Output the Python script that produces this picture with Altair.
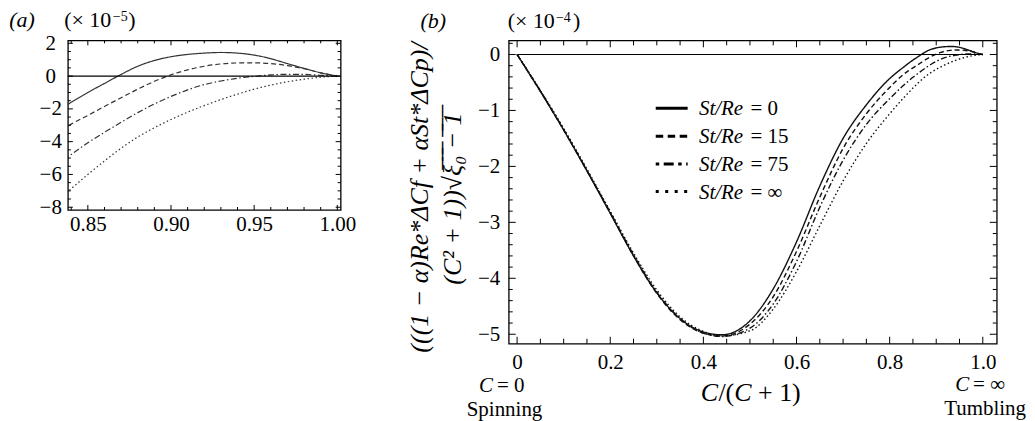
import altair as alt
import pandas as pd

FONT = "Liberation Serif"

# C/(C+1) grid shared by all curves
C_VALUES = [0.0, 0.05, 0.10, 0.15, 0.20, 0.25, 0.30, 0.35, 0.40, 0.44, 0.50,
            0.55, 0.60, 0.65, 0.70, 0.75, 0.80, 0.83, 0.84, 0.85, 0.86, 0.87,
            0.88, 0.89, 0.90, 0.91, 0.92, 0.93, 0.94, 0.95, 0.96, 0.97, 0.98,
            0.99, 1.00]

# curve values in units of 1e-5
SOLID = [0, -6.6, -13.5, -20.8, -28.4, -36.0, -42.6, -47.2, -49.6, -50.1, -47.6,
         -41.9, -33.5, -23.5, -15.0, -9.0, -4.3, -2.25, -1.6, -1.0, -0.45, 0.1,
         0.6, 0.95, 1.18, 1.32, 1.40, 1.44, 1.40, 1.28, 1.06, 0.76, 0.47, 0.20, 0]
DASHED = [0, -6.6, -13.5, -20.8, -28.3, -36.0, -42.7, -47.4, -49.8, -50.3, -48.2,
          -43.3, -35.2, -25.5, -16.8, -10.6, -5.9, -3.55, -2.93, -2.4, -1.85, -1.32,
          -0.8, -0.32, 0.08, 0.38, 0.6, 0.74, 0.8, 0.81, 0.76, 0.64, 0.45, 0.2, 0]
DASHDOT = [0, -6.5, -13.4, -20.7, -28.2, -35.8, -42.5, -47.2, -49.8, -50.4, -48.9,
           -44.6, -37.0, -27.3, -18.9, -12.5, -7.9, -5.5, -4.78, -4.07, -3.43, -2.82,
           -2.23, -1.7, -1.24, -0.84, -0.52, -0.3, -0.13, -0.02, 0.07, 0.11, 0.1, 0.05, 0]
DOTTED = [0, -6.4, -13.2, -20.5, -28.0, -35.5, -42.1, -46.9, -49.5, -50.3, -49.4,
          -45.5, -38.8, -30.6, -22.6, -15.9, -10.6, -7.75, -6.87, -6.0, -5.18, -4.4,
          -3.72, -3.15, -2.65, -2.2, -1.8, -1.43, -1.1, -0.8, -0.55, -0.35, -0.19, -0.07, 0]

ST_VALUES = ["0", "15", "75", "\u221e"]
SERIES_LABELS = ["St/Re = " + s for s in ST_VALUES]
DASHES = [[1, 0], [5, 3], [6, 2.5, 1.5, 2.5], [1.5, 2.5]]
LEGEND_DASHES = [[1, 0], [7.5, 4.5], [3.5, 4.5, 10, 4.5], [3, 6.5]]

# tick values
A_X_LABELS = [0.85, 0.90, 0.95, 1.00]
A_X_MINOR = [0.84, 0.86, 0.87, 0.88, 0.89, 0.91, 0.92, 0.93, 0.94, 0.96, 0.97, 0.98, 0.99]
A_Y_LABELS = [2, 0, -2, -4, -6, -8]
A_Y_MINOR = [1.5, 1, 0.5, -0.5, -1, -1.5, -2.5, -3, -3.5, -4.5, -5, -5.5, -6.5, -7, -7.5]
B_X_LABELS = [0, 0.2, 0.4, 0.6, 0.8, 1.0]
B_X_MINOR = [0.05, 0.1, 0.15, 0.25, 0.3, 0.35, 0.45, 0.5, 0.55, 0.65, 0.7, 0.75,
             0.85, 0.9, 0.95]
B_Y_LABELS = [0, -1, -2, -3, -4, -5]
B_Y_MINOR = [0.2, -0.2, -0.4, -0.6, -0.8, -1.2, -1.4, -1.6, -1.8, -2.2, -2.4, -2.6,
             -2.8, -3.2, -3.4, -3.6, -3.8, -4.2, -4.4, -4.6, -4.8]

rows = []
for lab, vals in zip(SERIES_LABELS, [SOLID, DASHED, DASHDOT, DOTTED]):
    for c, v in zip(C_VALUES, vals):
        rows.append({"C": c, "series": lab, "v": v})
df = pd.DataFrame(rows)
ONE = pd.DataFrame({"k": [0]})

dash_scale = alt.Scale(domain=SERIES_LABELS, range=DASHES)
MINUS = "replace(datum.label, '-', '\u2212')"


def axis(**kw):
    base = dict(ticks=False, tickSize=0, domain=False, grid=False, title=None,
                labelFont=FONT, labelFontSize=21, labelColor="black",
                labelFlush=False, labelOverlap=False)
    base.update(kw)
    return alt.Axis(**base)


AXA_X = axis(values=A_X_LABELS, format=".2f", labelPadding=4)
AXA_Y = axis(values=A_Y_LABELS, labelExpr=MINUS, labelAlign="center", labelPadding=17.7)
AXB_X = axis(values=B_X_LABELS,
             labelExpr="datum.value == 0 ? '0' : format(datum.value, '.1f')",
             labelPadding=7.5)
AXB_Y = axis(values=B_Y_LABELS, labelExpr=MINUS, labelPadding=9)


def txt(text, x, y, size, style="normal", align="left", angle=0):
    return alt.Chart(ONE).mark_text(
        text=text, font=FONT, fontSize=size, fontStyle=style, align=align,
        baseline="alphabetic", angle=angle, color="black"
    ).encode(x=alt.value(x), y=alt.value(y))


def ticks(xs, ys, axx, axy, W, H, xmaj, xmin, ymaj, ymin, lx_maj, lx_min, ly_maj, ly_min):
    out = []
    for vals, ln in ((xmaj, lx_maj), (xmin, lx_min)):
        base = alt.Chart(pd.DataFrame({"t": vals})).mark_rule(color="black", strokeWidth=1)
        xe = alt.X("t:Q", scale=xs, axis=axx)
        out.append(base.encode(x=xe, y=alt.value(H), y2=alt.value(H - ln)))
        out.append(base.encode(x=xe, y=alt.value(0), y2=alt.value(ln)))
    for vals, ln in ((ymaj, ly_maj), (ymin, ly_min)):
        base = alt.Chart(pd.DataFrame({"t": vals})).mark_rule(color="black", strokeWidth=1)
        ye = alt.Y("t:Q", scale=ys, axis=axy)
        out.append(base.encode(y=ye, x=alt.value(0), x2=alt.value(ln)))
        out.append(base.encode(y=ye, x=alt.value(W), x2=alt.value(W - ln)))
    return out


# ---------------- panel (a) ----------------
WA, HA = 273.3, 170
xa = alt.Scale(domain=[0.838, 1.002], nice=False, zero=False)
ya = alt.Scale(domain=[-8.17, 2.18], nice=False, zero=False)

lines_a = alt.Chart(df).transform_filter("datum.C >= 0.8").mark_line(
    clip=True, strokeWidth=1.2, color="#333333", interpolate="monotone"
).encode(
    x=alt.X("C:Q", scale=xa, axis=AXA_X),
    y=alt.Y("v:Q", scale=ya, axis=AXA_Y),
    strokeDash=alt.StrokeDash("series:N", scale=dash_scale, legend=None),
)
zero_a = alt.Chart(ONE).mark_rule(color="black", strokeWidth=1.1).encode(
    y=alt.YDatum(0, scale=ya, axis=AXA_Y))

panel_a = alt.layer(
    lines_a, zero_a,
    *ticks(xa, ya, AXA_X, AXA_Y, WA, HA, A_X_LABELS, A_X_MINOR, A_Y_LABELS, A_Y_MINOR,
           5, 3, 5, 3),
    txt("(a)", -58.7, -13, 22, style="italic"),
    txt("(\u00d7 10", -3.7, -13, 22),
    txt("\u22125", 45, -19, 14),
    txt(")", 60.5, -13, 22),
).properties(width=WA, height=HA)

# ---------------- panel (b) ----------------
WB, HB = 489, 304
xb = alt.Scale(domain=[-0.018, 1.03], nice=False, zero=False)
yb = alt.Scale(domain=[-5.17, 0.253], nice=False, zero=False)

lines_b = alt.Chart(df).transform_calculate(vb="datum.v / 10").mark_line(
    strokeWidth=1.4, color="#111111", interpolate="monotone"
).encode(
    x=alt.X("C:Q", scale=xb, axis=AXB_X),
    y=alt.Y("vb:Q", scale=yb, axis=AXB_Y),
    strokeDash=alt.StrokeDash("series:N", scale=dash_scale, legend=None),
)
zero_b = alt.Chart(ONE).mark_rule(color="black", strokeWidth=1.1).encode(
    x=alt.XDatum(0, scale=xb, axis=AXB_X), x2=alt.X2Datum(1),
    y=alt.YDatum(0, scale=yb, axis=AXB_Y))

# legend (key lines + labels) inside panel (b)
legend_layers = []
ROW_CENTERS = [68.0, 96.0, 123.8, 151.5]
for i, (sv, dash) in enumerate(zip(ST_VALUES, LEGEND_DASHES)):
    cy = ROW_CENTERS[i]
    legend_layers.append(
        alt.Chart(ONE).mark_rule(color="black", strokeWidth=3, strokeDash=dash).encode(
            x=alt.value(147.3), x2=alt.value(179.3), y=alt.value(cy)))
    legend_layers.append(txt("St/Re", 190.6, cy + 7, 21, style="italic"))
    legend_layers.append(txt("= " + sv, 242.3, cy + 7, 21))

OV = "\u0305"
line2 = "(C\u00b2 + 1))\u221a" + "".join(ch + OV for ch in "\u03be\u2080 \u2212 1")

panel_b = alt.layer(
    lines_b, zero_b,
    *ticks(xb, yb, AXB_X, AXB_Y, WB, HB, B_X_LABELS, B_X_MINOR, B_Y_LABELS, B_Y_MINOR,
           7, 5, 7, 4),
    *legend_layers,
    txt("(b)", -88.4, -12.5, 22, style="italic"),
    txt("(\u00d7 10", -1, -12, 22),
    txt("\u22124", 47.3, -18, 14),
    txt(")", 64.5, -12, 22),
    txt("(((1 \u2212 \u03b1)Re*\u0394Cf + \u03b1St*\u0394Cp)/", -81, 157.5, 26,
        style="italic", align="center", angle=270),
    txt(line2, -48, 158.5, 26, style="italic", align="center", angle=270),
    txt("C", 192.3, 361.5, 26, style="italic"),
    txt("/(", 210.1, 361.5, 26),
    txt("C", 226, 361.5, 26, style="italic"),
    txt("+ 1)", 249.8, 361.5, 26),
    txt("C", -29.7, 352.0, 21, style="italic"),
    txt("= 0", -11.7, 352.0, 21),
    txt("Spinning", -4.2, 376.0, 21, align="center"),
    txt("C", 447.3, 351.3, 21, style="italic"),
    txt("= \u221e", 465.3, 351.3, 21),
    txt("Tumbling", 477.3, 375.3, 21, align="center"),
).properties(width=WB, height=HB)

chart = alt.hconcat(panel_a, panel_b, spacing=167.7, bounds="flush").resolve_scale(
    x="independent", y="independent", strokeDash="independent"
).configure_view(
    stroke="black", strokeWidth=1.3
).configure_axis(
    labelFont=FONT, labelColor="black"
).properties(padding={"left": 0, "top": 0, "right": 0, "bottom": 0})

chart.save("out.html", embed_options={"renderer": "svg", "actions": False})
